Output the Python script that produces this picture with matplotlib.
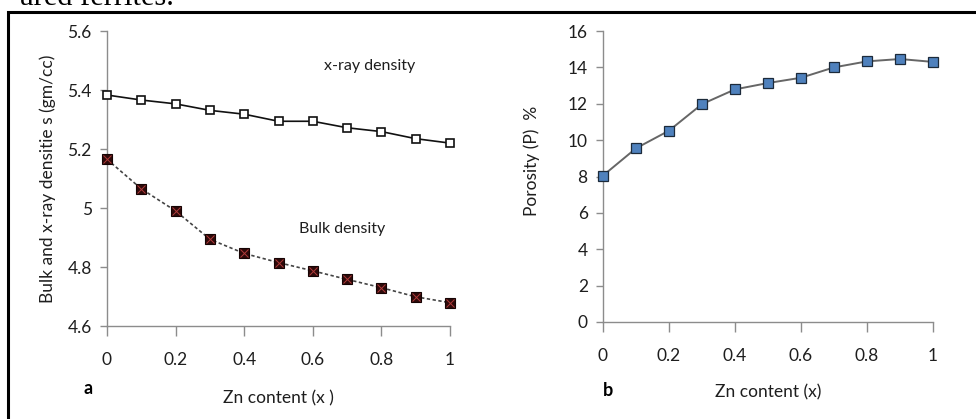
import matplotlib
matplotlib.use("Agg")
import matplotlib.pyplot as plt
from matplotlib.patches import Rectangle
import numpy as np

zn = [0, 0.1, 0.2, 0.3, 0.4, 0.5, 0.6, 0.7, 0.8, 0.9, 1.0]
xray_density = [5.383, 5.366, 5.353, 5.331, 5.318, 5.294, 5.294, 5.272, 5.259, 5.235, 5.220]
bulk_density = [5.165, 5.065, 4.990, 4.894, 4.846, 4.815, 4.787, 4.758, 4.730, 4.699, 4.679]
porosity = [8.05, 9.55, 10.52, 11.98, 12.79, 13.14, 13.43, 14.0, 14.33, 14.46, 14.3]

xticks = [0, 0.2, 0.4, 0.6, 0.8, 1]
xticklabels = ["0", "0.2", "0.4", "0.6", "0.8", "1"]
yticks_a = [4.6, 4.8, 5.0, 5.2, 5.4, 5.6]
yticklabels_a = ["4.6", "4.8", "5", "5.2", "5.4", "5.6"]
yticks_b = [0, 2, 4, 6, 8, 10, 12, 14, 16]

plt.rcParams['font.family'] = ['Lato', 'DejaVu Sans']

W, H = 976, 419
fig = plt.figure(figsize=(W / 100, H / 100), dpi=100)

def box(x0, x1, ytop, ybot):
    return [x0 / W, 1 - ybot / H, (x1 - x0) / W, (ybot - ytop) / H]

axa = fig.add_axes(box(107, 450, 31, 326))
axb = fig.add_axes(box(603, 933, 31, 322))

gray = '#8c8c8c'
txt = '#1e1e1e'
for ax in (axa, axb):
    for s in ('top', 'right'):
        ax.spines[s].set_visible(False)
    for s in ('left', 'bottom'):
        ax.spines[s].set_color(gray)
        ax.spines[s].set_linewidth(1.0)
    ax.tick_params(axis='both', colors=gray, labelcolor=txt, labelsize=12.5,
                   direction='out', width=1.0)
    ax.tick_params(axis='y', length=5, pad=6)
    ax.tick_params(axis='x', length=7, pad=12)
    ax.set_xlim(0, 1)
    ax.set_xticks(xticks)
    ax.set_xticklabels(xticklabels)

# Panel a
axa.set_ylim(4.6, 5.6)
axa.set_yticks(yticks_a)
axa.set_yticklabels(yticklabels_a)
axa.plot(zn, xray_density, '-', color='#111111', lw=1.2, marker='s', ms=6,
         mfc='white', mec='#111111', mew=1.2, clip_on=False, zorder=3)
axa.plot(zn, bulk_density, '--', color='#444444', lw=1.2, dashes=(2, 1.5), marker='s', ms=6.5,
         mfc='#2e0a0a', mec='#150303', mew=0.8, clip_on=False, zorder=3)
axa.plot(zn, bulk_density, linestyle='none', marker='x', ms=5.5, mec='#b03a3a', mew=0.7,
         clip_on=False, zorder=4)
axa.text(0.765, 5.48, 'x-ray density', fontsize=11.5, ha='center', va='center', color=txt)
axa.text(0.685, 4.929, 'Bulk density', fontsize=11.5, ha='center', va='center', color=txt)
axa.set_xlabel('Zn content (x )', fontsize=12.5, color=txt, labelpad=16)
axa.set_ylabel('Bulk and x-ray densitie s (gm/cc)', fontsize=12.5, color=txt, labelpad=8)
fig.text(88 / W, 1 - 388 / H, 'a', fontsize=13, fontweight='bold', ha='center', va='center')

# Panel b
axb.set_ylim(0, 16)
axb.set_yticks(yticks_b)
axb.plot(zn, porosity, '-', color='#666666', lw=1.4, marker='s', ms=7,
         mfc='#4f81bd', mec='#1c2a3a', mew=0.9, clip_on=False, zorder=3)
axb.set_xlabel('Zn content (x)', fontsize=12.5, color=txt, labelpad=14)
axb.set_ylabel('Porosity (P)  %', fontsize=12.5, color=txt)
axb.yaxis.set_label_coords(-0.19, 0.555)
fig.text(608 / W, 1 - 390 / H, 'b', fontsize=13, fontweight='bold', ha='center', va='center')

# Page border and cropped caption text
fig.add_artist(Rectangle((8 / W, -0.05), 1.1, 1 - 12 / H + 0.05, transform=fig.transFigure,
                         fill=False, edgecolor='black', lw=2.2))
fig.text(20 / W, 1 - 5 / H, 'ared ferrites.', fontsize=22, family='Liberation Serif',
         ha='left', va='baseline', color='black')

fig.savefig('out.png', dpi=100)
